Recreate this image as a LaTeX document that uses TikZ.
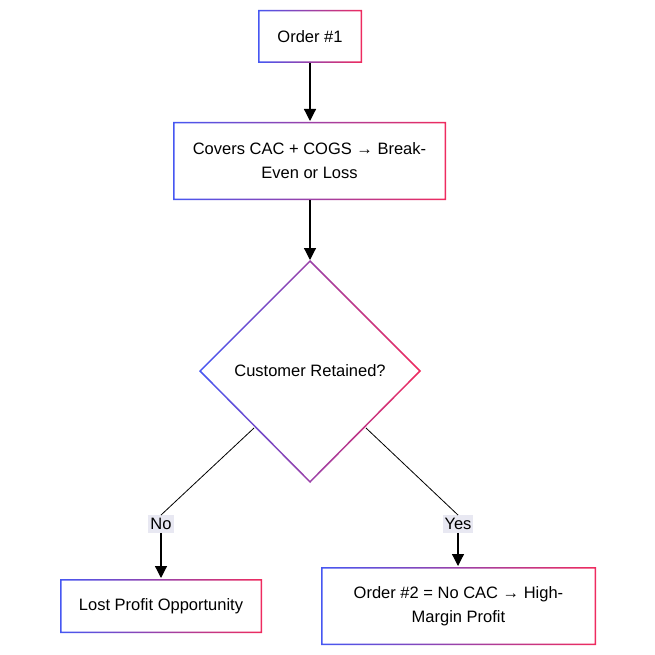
\documentclass[tikz,border=0pt]{standalone}
\usepackage{fontspec}
\setmainfont{Liberation Sans}
\usetikzlibrary{arrows.meta}
\definecolor{gb}{HTML}{4657F2}
\definecolor{gr}{HTML}{EF2B5E}
\definecolor{lbg}{HTML}{E8E8F2}
\begin{document}
\begin{tikzpicture}[x=1pt,y=-1pt,
  txt/.style={font=\fontsize{16.5}{24}\selectfont, align=center, inner sep=0pt},
  lbl/.style={font=\fontsize{16.5}{18}\selectfont, fill=lbg, inner xsep=2pt, inner ysep=3pt},
  edge/.style={line width=0.8pt},
  arr/.style={line width=1.2pt,-{Triangle[length=12pt,width=12pt]}}]
\useasboundingbox (0,0) rectangle (655,655);
\newcommand{\gbox}[4]{%
  \shade[left color=gb,right color=gr,even odd rule] (#1,#2) rectangle (#3,#4) (#1+1.5,#2+1.5) rectangle (#3-1.5,#4-1.5);}
\gbox{258}{10}{362}{63}
\gbox{173}{122}{446}{200}
\gbox{60}{579}{262}{633}
\gbox{321}{567}{596}{645}
\shade[left color=gb,right color=gr,even odd rule] (310,260)--(421,371)--(310,483)--(199,371)--cycle (310,262.2)--(418.9,371)--(310,480.8)--(201.1,371)--cycle;
\node[txt] (o1) at (310,36.5) {Order \#1};
\node[txt] (cov) at (309.5,161) {Covers CAC + COGS → Break-\\Even or Loss};
\node[txt] (cr) at (310,371) {Customer Retained?};
\node[txt] (lost) at (161,606) {Lost Profit Opportunity};
\node[txt] (o2) at (458.5,606) {Order \#2 = No CAC → High-\\Margin Profit};
\coordinate (ctop) at (310,260);
\coordinate (dl) at (254,428);
\coordinate (dr) at (366,428);
\coordinate (o1b) at (310,63);
\coordinate (covt) at (310,121);
\coordinate (covb) at (310,200);
\coordinate (lostt) at (161,578);
\coordinate (o2t) at (458,566);
\node[lbl] (no) at (161,524) {No};
\node[lbl] (yes) at (458,524) {Yes};
\draw[arr] (o1b) -- (covt);
\draw[arr] (covb) -- (ctop);
\draw[edge] (dl) -- (no.north);
\draw[arr] (no.south) -- (lostt);
\draw[edge] (dr) -- (yes.north);
\draw[arr] (yes.south) -- (o2t);
\end{tikzpicture}
\end{document}
